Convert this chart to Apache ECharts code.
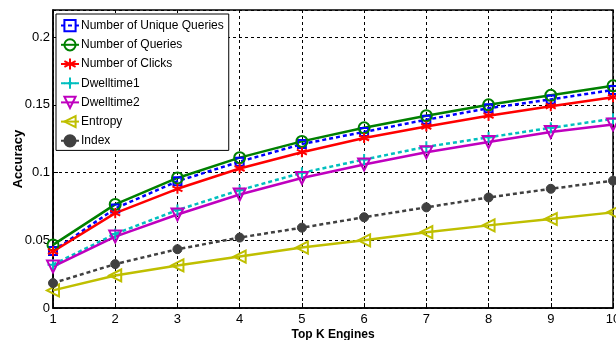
<!DOCTYPE html>
<html><head><meta charset="utf-8">
<script src="https://cdn.jsdelivr.net/npm/echarts@6/dist/echarts.min.js"></script>
<style>html,body{margin:0;padding:0;background:#fff}#c{width:616px;height:340px}</style>
</head><body><div id="c"></div>
<script>
const topK = [1,2,3,4,5,6,7,8,9,10];
const uniqueQueries = [0.042,0.0735,0.0936,0.108,0.121,0.130,0.139,0.1475,0.154,0.161];
const numQueries = [0.0466,0.0765,0.096,0.111,0.123,0.133,0.142,0.150,0.157,0.164];
const numClicks = [0.0417,0.070,0.088,0.103,0.115,0.1255,0.134,0.142,0.149,0.1556];
const dwell1 = [0.032,0.0547,0.0723,0.087,0.0998,0.1096,0.119,0.126,0.133,0.1397];
const dwell2 = [0.0306,0.0527,0.069,0.0838,0.096,0.106,0.115,0.1225,0.130,0.1355];
const entropy = [0.013,0.024,0.0314,0.038,0.0446,0.050,0.056,0.061,0.0657,0.0706];
const indexS = [0.0184,0.0324,0.0434,0.052,0.0593,0.067,0.0743,0.0816,0.088,0.094];
const names = ['Number of Unique Queries','Number of Queries','Number of Clicks','Dwelltime1','Dwelltime2','Entropy','Index'];

const pair = arr => topK.map((k,i)=>[k,arr[i]]);
const STAR = 'path://M5,0L5,10M0.7,2.5L9.3,7.5M0.7,7.5L9.3,2.5';
const PLUS = 'path://M5,0L5,10M0,5L10,5';
const DTRI = 'path://M0,0L10,0L5,9Z';
const LTRI = 'path://M0,5L9,0L9,10Z';

function mk(name, data, color, dash, symbol, size, filled){
  return {
    name, type:'line', data: pair(data), color,
    symbol, symbolSize: size, showSymbol:true,
    lineStyle:{color, width:2.5, type: dash},
    itemStyle: filled ? {color, borderColor:color, borderWidth:1} : {color:'rgba(0,0,0,0)', borderColor:color, borderWidth:2},
    emphasis:{disabled:true}, animation:false, z:2
  };
}

const chart = echarts.init(document.getElementById('c'));
chart.setOption({
  animation:false,
  grid:{left:53,right:3,top:10,bottom:32,show:true,borderColor:'#000',borderWidth:1.5,backgroundColor:'transparent',outerBoundsMode:'none',containLabel:false},
  legend:{
    orient:'vertical', left:56, top:14, data:names,
    backgroundColor:'#fff', borderColor:'#000', borderWidth:1,
    padding:[5,5,3,4], itemGap:6, itemWidth:18, itemHeight:14,
    textStyle:{fontFamily:'Liberation Sans, Arial, sans-serif', fontSize:12, color:'#000', padding:[0,0,0,-3]},
    selectedMode:false, z:10
  },
  xAxis:{
    type:'value', min:1, max:10, interval:1,
    name:'Top K Engines', nameLocation:'middle', nameGap:21, nameMoveOverlap:false,
    nameTextStyle:{fontFamily:'Liberation Sans, Arial, sans-serif', fontSize:12, fontWeight:'bold', color:'#000'},
    axisLine:{show:true,lineStyle:{color:'#000',width:1.5}},
    axisTick:{show:true,inside:true,length:5,lineStyle:{color:'#000'}},
    axisLabel:{fontFamily:'Liberation Sans, Arial, sans-serif', fontSize:13, color:'#000', margin:5},
    splitLine:{show:true,lineStyle:{color:'#000',width:1,type:[3,3]}}
  },
  yAxis:{
    type:'value', min:0, max:0.22, interval:0.05,
    name:'Accuracy', nameLocation:'middle', nameGap:28, nameMoveOverlap:false,
    nameTextStyle:{fontFamily:'Liberation Sans, Arial, sans-serif', fontSize:13, fontWeight:'bold', color:'#000'},
    axisLine:{show:true,lineStyle:{color:'#000',width:1.5}},
    axisTick:{show:true,inside:true,length:5,lineStyle:{color:'#000'}},
    axisLabel:{fontFamily:'Liberation Sans, Arial, sans-serif', fontSize:13, color:'#000', margin:3, showMaxLabel:false},
    splitLine:{show:true,lineStyle:{color:'#000',width:1,type:[3,3]}}
  },
  series:[
    mk(names[0], uniqueQueries, '#0000ff', [4,3], 'rect', 8, false),
    mk(names[1], numQueries, '#008000', 'solid', 'circle', 11, false),
    mk(names[2], numClicks, '#ff0000', 'solid', STAR, 10, false),
    mk(names[3], dwell1, '#00bfbf', [4,3], PLUS, 11, false),
    mk(names[4], dwell2, '#bf00bf', 'solid', DTRI, 12, false),
    mk(names[5], entropy, '#bfbf00', 'solid', LTRI, 12, false),
    mk(names[6], indexS, '#404040', [4,3], 'circle', 9, true)
  ]
});
</script></body></html>
